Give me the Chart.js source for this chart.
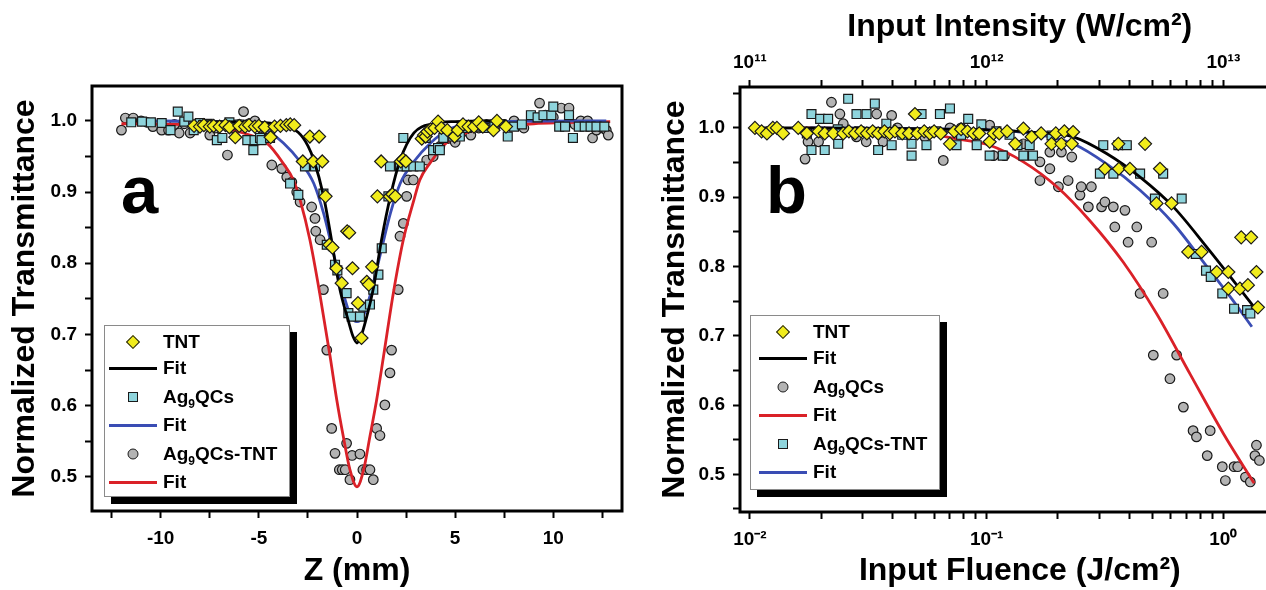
<!DOCTYPE html>
<html>
<head>
<meta charset="utf-8">
<title>Z-scan and fluence transmittance</title>
<script src="https://cdn.jsdelivr.net/npm/chart.js"></script>
<style>
  body { margin:0; width:1266px; height:590px; overflow:hidden; position:relative; background:#fff;
         font-family:"Liberation Sans", Arial, sans-serif; font-weight:bold; color:#000; }
  canvas { position:absolute; top:0; }
  #chartA { left:0; }
  #chartB { left:640px; }
  .tag { position:absolute; font-size:67px; line-height:67px; }
  .legend { position:absolute; box-sizing:border-box; background:#fff; border:1px solid #8a8a8a;
            box-shadow:7px 7px 0 #000; font-size:19px; padding-top:3px; }
  .legend .row { display:flex; align-items:center; height:26px; }
  .legend .row.tall { height:31px; }
  .legend .sym { position:relative; height:100%; flex:none; }
  .legend .sym .ln { position:absolute; left:0; right:0; top:50%; height:3px; margin-top:-1.5px; }
  .legend .sym .mk { position:absolute; left:50%; top:50%; box-sizing:border-box; border:1px solid #1a1a1a; }
  .legend sub { font-size:12px; line-height:0; vertical-align:-5px; }
</style>
</head>
<body>
<canvas id="chartA" width="640" height="590"></canvas>
<canvas id="chartB" width="680" height="590"></canvas>
<div class="tag" style="left:121px; top:156px;">a</div>
<div class="tag" style="left:766px; top:156px;">b</div>
<div id="legendA" class="legend" style="left:104px; top:325px; width:186px; height:172px;"></div>
<div id="legendB" class="legend" style="left:750px; top:315px; width:190px; height:175px;"></div>
<script>
// ---- panel a : open-aperture Z-scan, [z (mm), normalized transmittance]
const aTNT = [[-8.3,0.993],[-8.0,0.992],[-7.8,0.994],[-7.5,0.992],[-7.3,0.993],[-7.0,0.992],[-6.7,0.994],
  [-6.5,0.991],[-6.2,0.977],[-6.0,0.993],[-5.7,0.992],[-5.5,0.994],[-5.2,0.992],[-5.0,0.993],[-4.7,0.991],
  [-4.4,0.977],[-4.2,0.992],[-3.9,0.993],[-3.6,0.994],[-3.4,0.995],[-3.2,0.994],[-2.76,0.943],[-2.4,0.978],
  [-2.23,0.943],[-1.93,0.978],[-1.77,0.943],[-1.6,0.894],[-1.41,0.826],[-1.25,0.822],[-1.05,0.793],
  [-0.78,0.772],[-0.5,0.845],[-0.4,0.843],[-0.23,0.793],[0.05,0.744],[0.23,0.695],[0.5,0.774],[0.6,0.77],
  [0.77,0.795],[1.04,0.894],[1.23,0.943],[1.68,0.894],[1.8,0.897],[1.95,0.894],[2.23,0.943],[2.35,0.946],
  [2.49,0.943],[3.3,0.975],[3.41,0.98],[3.5,0.978],[3.59,0.985],[3.75,0.988],[3.95,0.99],[4.13,0.999],
  [4.3,0.99],[4.6,0.987],[4.97,0.978],[5.14,0.987],[5.4,0.995],[5.68,0.992],[5.96,0.992],[6.2,0.998],
  [6.41,0.992],[6.95,0.987],[7.13,1.0],[7.59,0.992]];
const aQCs = [[-11.5,0.998],[-10.95,0.999],[-10.5,0.998],[-9.95,0.997],[-9.5,0.987],[-9.13,1.013],[-8.8,0.999],
  [-8.59,1.006],[-8.32,0.987],[-8.0,0.997],[-7.6,0.996],[-7.14,0.973],[-6.86,0.976],[-6.5,0.998],[-6.0,0.995],
  [-5.59,0.973],[-5.28,0.959],[-5.22,0.973],[-4.94,0.976],[-4.86,0.973],[-4.43,0.976],[-3.41,0.912],
  [-2.99,0.896],[-2.65,0.936],[-2.14,0.936],[-1.71,0.898],[-1.54,0.826],[-1.12,0.798],[-1.0,0.79],
  [-0.53,0.758],[-0.44,0.73],[-0.27,0.725],[0.15,0.725],[0.32,0.739],[0.66,0.742],[0.83,0.763],[1.09,0.784],
  [1.26,0.821],[1.6,0.894],[1.68,0.936],[2.19,0.936],[2.36,0.976],[2.53,0.936],[2.87,0.936],[3.2,0.936],
  [3.5,0.976],[3.88,0.959],[4.13,0.962],[4.22,0.959],[4.4,0.976],[4.9,0.978],[5.24,0.978],[5.6,0.99],
  [6.0,0.992],[6.5,0.99],[7.0,0.995],[7.68,0.978],[8.0,0.992],[8.4,0.995],[8.86,1.008],[9.2,1.005],
  [9.5,1.008],[9.9,1.008],[10.0,1.02],[10.3,0.992],[10.6,0.992],[10.8,1.008],[11.0,0.976],[11.3,0.992],
  [11.6,0.992],[11.9,0.992],[12.2,0.992],[12.6,0.992]];
const aQCsTNT = [[-12.0,0.987],[-11.8,1.004],[-11.4,1.004],[-11.0,1.0],[-10.7,0.998],[-10.4,0.992],[-9.95,0.987],
  [-9.6,0.987],[-9.3,0.995],[-9.06,0.983],[-8.8,0.996],[-8.5,0.983],[-8.2,0.99],[-7.9,0.995],[-7.5,0.98],
  [-7.2,0.99],[-6.6,0.952],[-6.4,0.99],[-6.0,0.995],[-5.78,1.013],[-5.5,0.996],[-5.2,1.0],[-4.9,0.99],
  [-4.6,0.985],[-4.34,0.938],[-3.83,0.933],[-3.58,0.921],[-3.32,0.914],[-3.07,0.9],[-2.9,0.886],
  [-2.31,0.879],[-2.14,0.863],[-2.1,0.845],[-1.88,0.833],[-1.71,0.763],[-1.54,0.678],[-1.29,0.568],
  [-1.12,0.533],[-0.9,0.51],[-0.75,0.51],[-0.6,0.51],[-0.53,0.547],[-0.36,0.496],[-0.25,0.53],[0.15,0.532],
  [0.3,0.51],[0.49,0.51],[0.66,0.51],[0.83,0.496],[1.0,0.568],[1.17,0.558],[1.42,0.601],[1.68,0.646],
  [1.76,0.678],[2.1,0.763],[2.19,0.838],[2.36,0.856],[2.53,0.894],[2.6,0.917],[2.87,0.917],[3.55,0.945],
  [3.88,0.95],[4.22,0.964],[4.6,0.975],[5.0,0.97],[5.4,0.985],[5.8,0.98],[6.2,0.99],[6.6,0.995],[7.0,0.99],
  [7.5,0.995],[8.0,1.0],[8.5,0.99],[9.0,1.005],[9.3,1.025],[9.6,1.008],[10.0,1.005],[10.4,1.018],
  [10.8,1.018],[11.1,0.995],[11.4,1.0],[11.75,1.0],[12.0,0.976],[12.2,0.987],[12.5,0.99],[12.7,0.987],
  [12.8,0.98]];
const aFitTNT = [[-8.1,0.999],[-5,0.998],[-4,0.995],[-3,0.984],[-2.5,0.965],[-2.2,0.945],[-1.7,0.894],
  [-1.3,0.833],[-0.9,0.767],[-0.45,0.72],[-0.2,0.697],[0,0.688],[0.2,0.697],[0.45,0.72],[0.85,0.767],
  [1.25,0.833],[1.7,0.894],[2.2,0.945],[2.9,0.983],[3.9,0.996],[5,0.999],[7.6,1.0]];
const aFitQCs = [[-11,1.0],[-6,0.998],[-5,0.993],[-4.6,0.987],[-3.75,0.969],[-2.9,0.943],[-2.2,0.912],
  [-1.7,0.87],[-1.2,0.814],[-0.7,0.758],[-0.35,0.728],[0,0.718],[0.35,0.728],[0.7,0.758],[1.2,0.814],
  [1.7,0.87],[2.2,0.912],[2.9,0.943],[3.75,0.969],[4.6,0.987],[5.5,0.995],[7,0.999],[12.7,1.0]];
const aFitQCsTNT = [[-12,0.996],[-8,0.994],[-6.5,0.988],[-5.8,0.983],[-4.6,0.969],[-3.75,0.94],[-3.24,0.917],
  [-2.9,0.889],[-2.4,0.833],[-1.9,0.758],[-1.37,0.669],[-1.03,0.608],[-0.7,0.557],[-0.36,0.51],[0,0.486],
  [0.34,0.51],[0.66,0.557],[1.0,0.608],[1.35,0.669],[1.85,0.758],[2.36,0.833],[2.9,0.889],[3.2,0.917],
  [3.7,0.94],[4.55,0.969],[5.55,0.983],[6.6,0.99],[9,0.996],[12.9,0.999]];

// ---- panel b : [input fluence (J/cm2), normalized transmittance]
const bTNT = [[0.0105,1.0],[0.0112,0.995],[0.0118,0.992],[0.0125,1.0],[0.013,1.0],[0.0138,0.992],[0.016,1.0],
  [0.0174,0.992],[0.0195,0.995],[0.0207,0.992],[0.0225,0.992],[0.0248,0.992],[0.0262,0.995],[0.0278,0.992],
  [0.0295,0.995],[0.0312,0.992],[0.033,0.995],[0.0348,0.992],[0.037,0.995],[0.039,0.992],[0.041,0.995],
  [0.044,0.992],[0.047,0.992],[0.0498,1.02],[0.051,0.992],[0.0545,0.995],[0.0575,0.992],[0.06,0.995],
  [0.064,0.992],[0.07,0.977],[0.073,0.995],[0.078,0.998],[0.083,0.995],[0.088,0.992],[0.093,0.992],
  [0.103,0.98],[0.107,0.992],[0.113,0.992],[0.122,0.995],[0.132,0.977],[0.143,0.999],[0.155,0.987],
  [0.17,0.992],[0.188,0.977],[0.196,0.992],[0.207,0.977],[0.213,0.995],[0.229,0.977],[0.232,0.994],
  [0.316,0.941],[0.36,0.977],[0.362,0.941],[0.403,0.941],[0.467,0.977],[0.54,0.941],[0.522,0.891],
  [0.604,0.891],[0.711,0.821],[0.809,0.821],[0.938,0.792],[1.05,0.792],[1.05,0.768],[1.175,0.768],
  [1.27,0.773],[1.19,0.842],[1.31,0.842],[1.38,0.792],[1.4,0.741]];
const bQCs = [[0.0171,0.955],[0.0176,0.98],[0.0195,0.98],[0.0221,1.037],[0.024,1.02],[0.0248,1.006],
  [0.0282,0.987],[0.031,0.98],[0.0343,1.02],[0.0365,0.98],[0.0397,1.018],[0.042,1.0],[0.0548,0.987],
  [0.0656,0.953],[0.07,1.0],[0.078,1.0],[0.09,0.99],[0.103,1.004],[0.107,0.96],[0.119,0.96],[0.143,0.977],
  [0.168,0.951],[0.168,0.924],[0.185,0.941],[0.185,0.965],[0.201,0.915],[0.207,0.965],[0.221,0.924],
  [0.229,0.958],[0.248,0.903],[0.251,0.915],[0.269,0.886],[0.277,0.915],[0.306,0.886],[0.316,0.893],
  [0.343,0.886],[0.348,0.857],[0.384,0.881],[0.396,0.835],[0.431,0.857],[0.498,0.835],[0.445,0.761],
  [0.557,0.761],[0.506,0.672],[0.635,0.672],[0.595,0.638],[0.678,0.597],[0.745,0.563],[0.77,0.554],
  [0.88,0.563],[0.855,0.527],[0.99,0.511],[1.11,0.511],[1.15,0.511],[1.02,0.491],[1.24,0.496],[1.3,0.489],
  [1.38,0.542],[1.36,0.527],[1.42,0.52]];
const bQCsTNT = [[0.0174,0.992],[0.0182,1.02],[0.0182,0.968],[0.0198,1.013],[0.0207,0.968],[0.0214,1.013],
  [0.0235,0.998],[0.0236,0.977],[0.026,1.042],[0.0282,1.02],[0.029,0.995],[0.0311,1.02],[0.0337,1.035],
  [0.0348,0.968],[0.0377,1.006],[0.0397,0.975],[0.044,0.99],[0.0482,0.977],[0.0482,0.96],[0.0531,1.02],
  [0.0557,0.975],[0.061,0.995],[0.0635,1.02],[0.07,1.028],[0.0746,0.975],[0.078,0.99],[0.0836,1.013],
  [0.0908,0.975],[0.095,1.005],[0.103,0.96],[0.11,0.995],[0.117,0.96],[0.125,0.99],[0.135,0.975],
  [0.143,0.96],[0.152,0.975],[0.157,0.96],[0.188,0.989],[0.301,0.934],[0.311,0.975],[0.343,0.934],
  [0.36,0.975],[0.391,0.975],[0.445,0.934],[0.514,0.898],[0.557,0.934],[0.667,0.898],[0.765,0.818],
  [0.845,0.794],[0.885,0.785],[0.99,0.761],[1.11,0.739],[1.26,0.737],[1.3,0.732]];
const bFitTNT = [[0.0105,1.0],[0.05,0.999],[0.1,0.997],[0.121,0.996],[0.168,0.993],[0.232,0.987],
  [0.321,0.963],[0.445,0.929],[0.615,0.886],[0.851,0.828],[1.1,0.78],[1.38,0.737]];
const bFitQCs = [[0.017,1.0],[0.033,0.998],[0.054,0.993],[0.075,0.984],[0.103,0.975],[0.143,0.951],
  [0.198,0.915],[0.273,0.866],[0.378,0.806],[0.522,0.732],[0.723,0.645],[1.0,0.559],[1.35,0.487]];
const bFitQCsTNT = [[0.018,1.0],[0.1,0.997],[0.168,0.99],[0.232,0.977],[0.321,0.948],[0.445,0.91],
  [0.615,0.862],[0.851,0.8],[1.07,0.756],[1.32,0.713]];

// ---- axes ticks
const zTicks = [-12.5,-10,-7.5,-5,-2.5,0,2.5,5,7.5,10,12.5];
const tTicks = [0.45,0.5,0.55,0.6,0.65,0.7,0.75,0.8,0.85,0.9,0.95,1.0,1.05];
const decadeSteps = [1,2,3,4,5,6,7,8,9];
const fluenceDecades = [0.001,0.01,0.1,1];
const intensityDecades = [1e10,1e11,1e12,1e13];

const YELLOW = '#f1ec1c', CYAN = '#8ed4dc', GREY = '#b3b3b3';
const BLACK = '#000000', BLUE = '#3a4db4', RED = '#da2128';

Chart.defaults.font.family = '"Liberation Sans", Arial, sans-serif';
Chart.defaults.font.weight = 'bold';
Chart.defaults.color = '#000';

const xy = arr => arr.map(p => ({x: p[0], y: p[1]}));
const sup = {'-':'\u207B','0':'\u2070','1':'\u00B9','2':'\u00B2','3':'\u00B3','4':'\u2074',
             '5':'\u2075','6':'\u2076','7':'\u2077','8':'\u2078','9':'\u2079'};

function points(label, data, style, fill, radius, order) {
  return {label, data: xy(data), pointStyle: style, backgroundColor: fill, borderColor: '#1a1a1a',
          pointBorderWidth: 1.2, pointRadius: radius, showLine: false, order};
}
function fit(label, data, color, order) {
  return {label, data: xy(data), borderColor: color, backgroundColor: color, borderWidth: 2.8,
          pointRadius: 0, showLine: true, cubicInterpolationMode: 'monotone', order};
}
function expand(decades, lo, hi) {
  const out = [];
  decades.forEach(d => decadeSteps.forEach(s => { const v = d * s; if (v >= lo && v <= hi) out.push(v); }));
  return out;
}
function powerLabel(v) {
  const e = Math.log10(v);
  if (Math.abs(e - Math.round(e)) > 1e-6) return '';
  return '10' + String(Math.round(e)).split('').map(c => sup[c]).join('');
}
const tickGrid = {display: true, drawOnChartArea: false, drawTicks: true, tickLength: 7, tickWidth: 2, tickColor: '#000'};
const tickFont = {size: 19, weight: 'bold'};
const titleFont = {size: 32, weight: 'bold'};

const frame = {
  id: 'frame',
  afterDraw(chart) {
    const {ctx, chartArea: a} = chart;
    ctx.save();
    ctx.lineWidth = 3;
    ctx.strokeStyle = '#000';
    ctx.strokeRect(a.left, a.top, a.right - a.left, a.bottom - a.top);
    ctx.restore();
  }
};

function yAxis(min, max, width, titlePad) {
  return {
    type: 'linear', position: 'left', min, max,
    afterFit: s => { s.width = width; },
    afterBuildTicks: s => { s.ticks = tTicks.filter(v => v >= min && v <= max).map(v => ({value: v})); },
    ticks: {font: tickFont, padding: 8, autoSkip: false,
            callback: v => (Math.abs(v * 10 - Math.round(v * 10)) < 1e-6 ? v.toFixed(1) : '')},
    grid: tickGrid, border: {display: false},
    title: {display: true, text: 'Normalized Transmittance', font: titleFont, padding: {top: titlePad, bottom: 0}}
  };
}

// ---- panel a
const chartA = new Chart(document.getElementById('chartA'), {
  type: 'scatter',
  data: {datasets: [
    points('TNT', aTNT, 'rectRot', YELLOW, 6.5, 0),
    fit('Fit', aFitTNT, BLACK, 1),
    points('Ag9QCs', aQCs, 'rect', CYAN, 6.3, 2),
    fit('Fit', aFitQCs, BLUE, 3),
    points('Ag9QCs-TNT', aQCsTNT, 'circle', GREY, 4.8, 5),
    fit('Fit', aFitQCsTNT, RED, 4)
  ]},
  options: {
    responsive: false, animation: false, events: [],
    layout: {padding: {left: 0, right: 18, top: 86, bottom: 0}},
    plugins: {legend: {display: false}, tooltip: {enabled: false}},
    scales: {
      x: {
        type: 'linear', position: 'bottom', min: -13.5, max: 13.5,
        afterFit: s => { s.height = 79; },
        afterBuildTicks: s => { s.ticks = zTicks.map(v => ({value: v})); },
        ticks: {font: tickFont, padding: 9, maxRotation: 0, autoSkip: false,
                callback: v => (v % 5 === 0 ? String(v) : '')},
        grid: tickGrid, border: {display: false},
        title: {display: true, text: 'Z (mm)', font: titleFont, padding: {top: 0, bottom: 0}}
      },
      y: yAxis(0.452, 1.049, 92, 6)
    }
  },
  plugins: [frame]
});

// ---- panel b
const fMin = 0.00908, fMax = 2.1;
const chartB = new Chart(document.getElementById('chartB'), {
  type: 'scatter',
  data: {datasets: [
    points('TNT', bTNT, 'rectRot', YELLOW, 6.5, 0),
    fit('Fit', bFitTNT, BLACK, 1),
    points('Ag9QCs', bQCs, 'circle', GREY, 4.8, 5),
    fit('Fit', bFitQCs, RED, 4),
    points('Ag9QCs-TNT', bQCsTNT, 'rect', CYAN, 6.3, 2),
    fit('Fit', bFitQCsTNT, BLUE, 3)
  ]},
  options: {
    responsive: false, animation: false, events: [],
    layout: {padding: {left: 0, right: 20.4, top: 0, bottom: 0}},
    plugins: {legend: {display: false}, tooltip: {enabled: false}},
    scales: {
      x: {
        type: 'logarithmic', position: 'bottom', min: fMin, max: fMax,
        afterFit: s => { s.height = 78; },
        afterBuildTicks: s => { s.ticks = expand(fluenceDecades, fMin, fMax).map(v => ({value: v})); },
        ticks: {font: tickFont, padding: 9, maxRotation: 0, autoSkip: false, callback: powerLabel},
        grid: tickGrid, border: {display: false},
        title: {display: true, text: 'Input Fluence (J/cm\u00B2)', font: titleFont, padding: {top: 0, bottom: 0}}
      },
      x2: {
        type: 'logarithmic', position: 'top', min: fMin * 1e13, max: fMax * 1e13,
        afterFit: s => { s.height = 87; },
        afterBuildTicks: s => { s.ticks = expand(intensityDecades, fMin * 1e13, fMax * 1e13).map(v => ({value: v})); },
        ticks: {font: tickFont, padding: 6, maxRotation: 0, autoSkip: false, callback: powerLabel},
        grid: tickGrid, border: {display: false},
        title: {display: true, text: 'Input Intensity (W/cm\u00B2)', font: titleFont, padding: {top: 8, bottom: 0}}
      },
      y: yAxis(0.4456, 1.059, 100, 16)
    }
  },
  plugins: [frame]
});

// ---- legends (HTML, built from the chart datasets)
const legendOrderA = [0, 1, 2, 3, 4, 5];
const legendOrderB = [0, 1, 2, 3, 4, 5];
function legendText(label) {
  return label.replace('Ag9', 'Ag<sub>9</sub>');
}
function buildLegend(chart, order, el, padLeft, symWidth, gap) {
  order.forEach(i => {
    const ds = chart.data.datasets[i];
    const row = document.createElement('div');
    row.className = 'row' + (ds.label.startsWith('Ag9') ? ' tall' : '');
    row.style.paddingLeft = padLeft + 'px';
    const sym = document.createElement('div');
    sym.className = 'sym';
    sym.style.width = symWidth + 'px';
    sym.style.marginRight = gap + 'px';
    if (ds.showLine) {
      sym.innerHTML = '<div class="ln" style="background:' + ds.borderColor + '"></div>';
    } else {
      const mk = document.createElement('div');
      mk.className = 'mk';
      mk.style.background = ds.backgroundColor;
      let s = 10;
      if (ds.pointStyle === 'rectRot') { s = 10; mk.style.transform = 'translate(-50%,-50%) rotate(45deg)'; }
      else { mk.style.transform = 'translate(-50%,-50%)'; }
      if (ds.pointStyle === 'circle') { s = 11; mk.style.borderRadius = '50%'; }
      mk.style.width = s + 'px';
      mk.style.height = s + 'px';
      sym.appendChild(mk);
    }
    const txt = document.createElement('span');
    txt.innerHTML = legendText(ds.label);
    row.appendChild(sym);
    row.appendChild(txt);
    el.appendChild(row);
  });
}
buildLegend(chartA, legendOrderA, document.getElementById('legendA'), 4, 48, 6);
buildLegend(chartB, legendOrderB, document.getElementById('legendB'), 8, 48, 6);
</script>
</body>
</html>
